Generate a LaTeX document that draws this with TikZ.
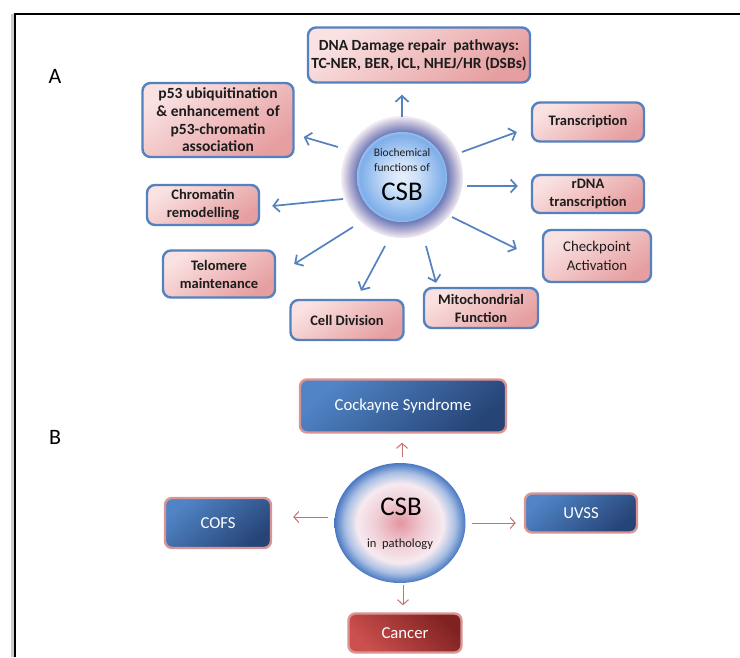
\documentclass[tikz,border=0pt]{standalone}
\usepackage{fontspec}
\setmainfont{Carlito}
\usetikzlibrary{arrows.meta,calc,shapes.geometric}

\definecolor{boxblue}{RGB}{84,130,190}
\definecolor{pinkA}{RGB}{250,226,226}
\definecolor{pinkB}{RGB}{230,158,160}
\definecolor{bblueA}{RGB}{80,132,198}
\definecolor{bblueB}{RGB}{38,68,118}
\definecolor{bborder}{RGB}{217,149,148}
\definecolor{redA}{RGB}{204,80,78}
\definecolor{redB}{RGB}{128,34,34}
\definecolor{arrB}{RGB}{198,112,112}
\definecolor{txt}{RGB}{28,28,28}

\pgfdeclareradialshading{ringA}{\pgfpoint{0bp}{0bp}}{%
  color(0bp)=(rgb,255:red,110;green,124;blue,184);
  color(18.6bp)=(rgb,255:red,110;green,124;blue,184);
  color(21.5bp)=(rgb,255:red,172;green,170;blue,208);
  color(25bp)=(rgb,255:red,244;green,238;blue,243);
  color(50bp)=(rgb,255:red,244;green,238;blue,243)}
\pgfdeclareradialshading{innerA}{\pgfpoint{0bp}{0bp}}{%
  color(0bp)=(rgb,255:red,230;green,240;blue,252);
  color(9bp)=(rgb,255:red,204;green,224;blue,249);
  color(23.5bp)=(rgb,255:red,126;green,174;blue,233);
  color(25bp)=(rgb,255:red,150;green,190;blue,238);
  color(50bp)=(rgb,255:red,150;green,190;blue,238)}
\pgfdeclareradialshading{ballB}{\pgfpoint{0bp}{0bp}}{%
  color(0bp)=(rgb,255:red,228;green,150;blue,160);
  color(9bp)=(rgb,255:red,240;green,204;blue,212);
  color(16.5bp)=(rgb,255:red,246;green,234;blue,240);
  color(21bp)=(rgb,255:red,170;green,192;blue,228);
  color(25bp)=(rgb,255:red,74;green,120;blue,194);
  color(50bp)=(rgb,255:red,74;green,120;blue,194)}

\tikzset{
  fbox/.style={draw=boxblue, line width=2.4pt, rounded corners=8pt,
    top color=pinkA, bottom color=pinkB, shading angle=35,
    inner sep=0pt, align=center, text=txt,
    font=\fontsize{14.5}{18}\selectfont\bfseries},
  pbox/.style={draw=bborder, line width=2.4pt, rounded corners=7pt,
    top color=bblueA, bottom color=bblueB, shading angle=40,
    inner sep=0pt, align=center, text=white,
    font=\fontsize{16.7}{20}\selectfont},
  rbox/.style={pbox, top color=redA, bottom color=redB, shading angle=135},
  arrA/.style={draw=boxblue, line width=1.7pt,
    -{Straight Barb[length=6pt,width=13pt,line width=1.7pt]}},
  arrB/.style={draw=arrB, line width=1pt,
    -{Straight Barb[length=5pt,width=11pt,line width=1pt]}},
  lbl/.style={font=\fontsize{22}{24}\selectfont, text=black}
}

\begin{document}
\begin{tikzpicture}[x=1pt,y=-1pt]
\useasboundingbox (0,0) rectangle (740,657);
\fill[white] (0,0) rectangle (740,657);
% frame
\fill[black!20] (10.5,14) rectangle (13.6,657);
\draw[black, line width=2.4pt] (15,657) -- (15,14) -- (740,14);

\node[lbl] (labA) at (55,76) {A};
\node[lbl] (labB) at (55,437) {B};

% ---------- Part A ----------
\node[circle, minimum size=122, inner sep=0pt, shade, shading=ringA] (csbA) at (402,177) {};
\node[circle, minimum size=90, inner sep=0pt, shade, shading=innerA] (csbAin) at (csbA) {};
\node[font=\fontsize{11.5}{15.5}\selectfont, text=txt, align=center] (bio) at (402,160) {Biochemical\\functions of};
\node[font=\fontsize{27}{30}\selectfont, text=black] (csbAt) at (402,192) {CSB};

\node[fbox, minimum width=222, minimum height=55, font=\fontsize{15.5}{18.5}\selectfont\bfseries] (dna) at (419,55) {DNA Damage repair\ \ pathways:\\TC-NER, BER, ICL, NHEJ/HR (DSBs)};
\node[fbox, minimum width=151, minimum height=74, font=\fontsize{15.5}{17.6}\selectfont\bfseries] (p53) at (218,120) {p53 ubiquitination\\\&\ enhancement\ \ of\\p53-chromatin\\association};
\node[fbox, minimum width=112, minimum height=39] (trans) at (588,122) {Transcription};
\node[fbox, minimum width=112, minimum height=38] (rdna) at (588,194) {rDNA\\transcription};
\node[fbox, minimum width=108, minimum height=52, font=\fontsize{14.8}{18.5}\selectfont] (check) at (597,256) {Checkpoint\\Activation};
\node[fbox, minimum width=114, minimum height=40] (mito) at (481,308) {Mitochondrial\\Function};
\node[fbox, minimum width=113, minimum height=40] (cell) at (347,320) {Cell Division};
\node[fbox, minimum width=112, minimum height=47] (telo) at (219,274) {Telomere\\maintenance};
\node[fbox, minimum width=112, minimum height=40] (chrom) at (203,205) {Chromatin\\remodelling};

\draw[arrA] ($(csbA)+(0,-60)$) -- ($(dna.south)+(-17,11)$);
\draw[arrA] ($(csbA)+(-64,-30)$) -- ($(p53.east)+(9,17)$);
\draw[arrA] ($(csbA)+(60,-25)$) -- ($(trans.west)+(-14,10)$);
\draw[arrA] ($(csbA)+(65,9)$) -- ($(rdna.west)+(-13,-8)$);
\draw[arrA] ($(csbA)+(50,40)$) -- ($(check.west)+(-25,-7)$);
\draw[arrA] ($(csbA)+(24,69)$) -- ($(mito.north)+(-45,-4)$);
\draw[arrA] ($(csbA)+(-17,69)$) -- ($(cell.north)+(14,-8)$);
\draw[arrA] ($(csbA)+(-49,50)$) -- ($(telo.east)+(18,-10)$);
\draw[arrA] ($(csbA)+(-59,22)$) -- ($(chrom.east)+(12,1)$);

% ---------- Part B ----------
\node[ellipse, minimum width=131, minimum height=120, inner sep=0pt, shade, shading=ballB] (csbB) at (400,523) {};
\node[font=\fontsize{27}{30}\selectfont, text=black] (csbBt) at (401,507) {CSB};
\node[font=\fontsize{12.5}{15}\selectfont, text=txt] (path) at (400,544) {in\ \ pathology};

\node[pbox, minimum width=206, minimum height=53] (cock) at (403,406) {Cockayne Syndrome};
\node[pbox, minimum width=106, minimum height=50] (cofs) at (218,523) {COFS};
\node[pbox, minimum width=112, minimum height=39] (uvss) at (581,513) {UVSS};
\node[rbox, minimum width=113, minimum height=39] (cancer) at (405,633) {Cancer};

\draw[arrB] ($(csbB)+(2,-66)$) -- ($(cock.south)+(-1,9)$);
\draw[arrB] ($(csbB)+(-72,-6)$) -- ($(cofs.east)+(21,-6)$);
\draw[arrB] ($(csbB)+(72,0)$) -- ($(uvss.west)+(-8,10)$);
\draw[arrB] ($(csbB)+(3,62)$) -- ($(cancer.north)+(-2,-7)$);
\end{tikzpicture}
\end{document}
